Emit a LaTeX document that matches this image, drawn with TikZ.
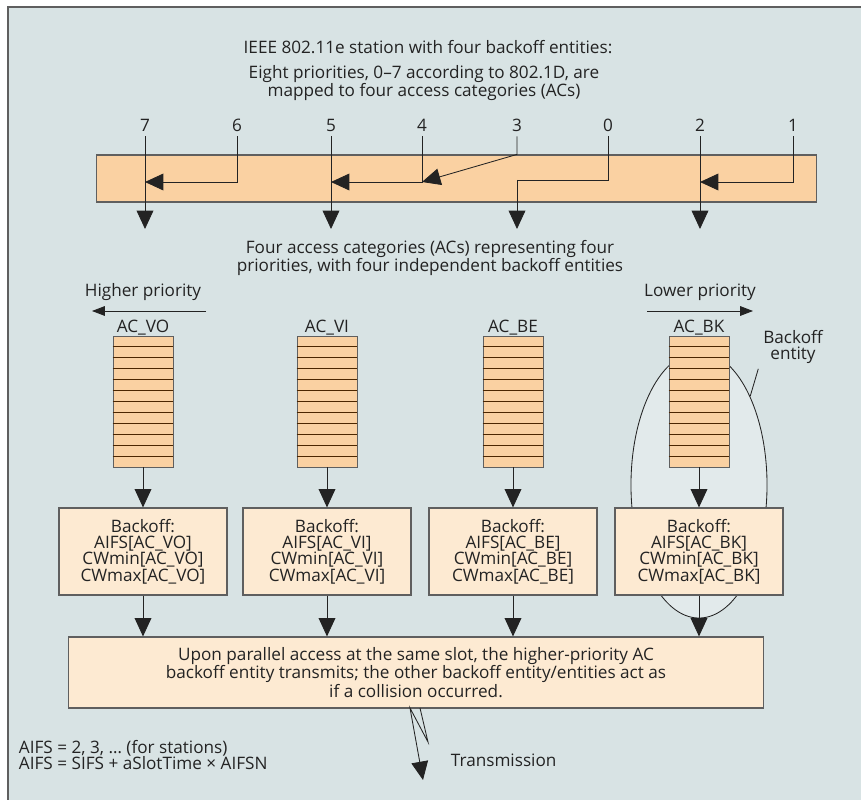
\documentclass[tikz,border=0pt]{standalone}
\usepackage{fontspec}
\setmainfont{Open Sans}
\usepackage{tikz}
\usetikzlibrary{shapes, arrows.meta, positioning, calc}
\definecolor{framebg}{RGB}{216,227,228}
\definecolor{entitybg}{RGB}{226,234,235}
\definecolor{barpeach}{RGB}{250,209,162}
\definecolor{boxpale}{RGB}{253,234,210}
\definecolor{edgegray}{RGB}{95,95,95}
\definecolor{inkgray}{RGB}{35,35,35}

\begin{document}
\begin{tikzpicture}[
  x=0.025cm, y=-0.025cm,
  font=\fontsize{12.2}{11.7}\selectfont, text=inkgray,
  barbox/.style={draw=edgegray, fill=barpeach, line width=0.8pt, minimum width=17.975cm, minimum height=1.175cm, inner sep=0pt},
  queuebox/.style={draw=edgegray, fill=barpeach, line width=0.6pt, minimum width=1.5cm, minimum height=3.275cm, inner sep=0pt},
  backoffbox/.style={draw=edgegray, fill=boxpale, line width=0.8pt, minimum width=4.2cm, minimum height=2.175cm, align=center, inner sep=2pt},
  arbbox/.style={draw=edgegray, fill=boxpale, line width=0.8pt, minimum width=17.35cm, minimum height=1.775cm, align=center},
  arr/.style={draw=inkgray, line width=0.6pt, -{Triangle[length=4.6mm, width=4.2mm]}},
  thinarr/.style={draw=inkgray, line width=0.6pt, -{Triangle[length=3.2mm, width=2.4mm]}},
  slotline/.style={draw=black!70!orange, line width=0.7pt}
]
  % frame
  \useasboundingbox (0,0) rectangle (861,800);
  \fill[white] (0,0) rectangle (861,800);
  \fill[framebg] (8,7) rectangle (861,800);
  \draw[edgegray, line width=1.4pt] (8,800) -- (8,7) -- (861,7);

  \node (title) at (428,47) {IEEE 802.11e station with four backoff entities:};
  \node[align=center] (prio) at (424,83) {Eight priorities, 0–7 according to 802.1D, are\\mapped to four access categories (ACs)};

  % priorities onto access categories
  \foreach \p/\x in {7/145, 6/237, 5/331, 4/422, 3/517, 0/608, 2/700, 1/793}
    \node (n\p) at (\x,125) {\p};
  \node[barbox] (mapbar) at (456.5,178.5) {};
  \coordinate (j7) at (145,182);
  \coordinate (j5) at (331,182);
  \coordinate (j4) at (422,182);
  \coordinate (j2) at (700,182);
  \coordinate (j0) at (517,180);
  \foreach \p/\x in {7/145, 5/331, 3/517, 2/700}
    \coordinate (d\p) at (\x,229);
  \draw[arr] (n6.south) |- (j7);
  \draw[arr] (n4.south) |- (j5);
  \draw[arr] (n3.south) -- (n3 |- mapbar.north) -- (j4);
  \draw[arr] (n1.south) |- (j2);
  \draw[inkgray, line width=0.6pt] (n0.south) |- (j0);
  \draw[arr] (j0) -- (d3);
  \foreach \p in {7,5,2}
    \draw[arr] (n\p.south) -- (d\p);

  \node[align=center] (cats) at (430,258) {Four access categories (ACs) representing four\\priorities, with four independent backoff entities};

  \node (hiprio) at (143,292) {Higher priority};
  \coordinate (hiS) at (206,311);
  \coordinate (hiE) at (92,311);
  \draw[thinarr] (hiS) -- (hiE);
  \node (loprio) at (700,292) {Lower priority};
  \coordinate (loS) at (647,311);
  \coordinate (loE) at (753,311);
  \draw[thinarr] (loS) -- (loE);

  % backoff entity outline
  \node[ellipse, draw=inkgray, fill=entitybg, line width=0.6pt, minimum width=3.4cm, minimum height=6.65cm, inner sep=0pt] (entity) at (699,485) {};

  % queues and backoff parameters
  \foreach \q/\x in {VO/143, VI/327, BE/513, BK/699} {
    \node[queuebox] (q\q) at (\x,401.5) {};
    \node[above=-3pt of q\q] (l\q) {AC\_\q};
    \foreach \k in {1,...,11}
      \draw[slotline] ($(q\q.north west)!\k/12!(q\q.south west)$) -- ($(q\q.north east)!\k/12!(q\q.south east)$);
    \node[backoffbox] (b\q) at (\x,551.5) {Backoff:\\AIFS[AC\_\q]\\CWmin[AC\_\q]\\CWmax[AC\_\q]};
    \draw[arr] (q\q.south) -- (b\q.north);
  }

  \node[align=center] (elabel) at (793,347) {Backoff\\entity};
  \draw[inkgray, line width=0.6pt] (elabel.south west) -- (entity.60);

  \node[arbbox] (arbiter) at (416,672.5) {Upon parallel access at the same slot, the higher-priority AC\\backoff entity transmits; the other backoff entity/entities act as\\if a collision occurred.};
  \foreach \q in {VO,VI,BE,BK}
    \draw[arr] (b\q.south) -- (b\q.south |- arbiter.north);

  % transmission
  \coordinate (zA) at (420,708);
  \coordinate (zB) at (428,742);
  \coordinate (zC) at (410,708);
  \coordinate (zT) at (423,780);
  \draw[arr] (zA) -- (zB) -- (zC) -- (zT);
  \node[anchor=west] (trans) at (446,760) {Transmission};

  \node[anchor=west, align=left] (aifs) at (14,755) {AIFS = 2, 3, \ldots{} (for stations)\\AIFS = SIFS + aSlotTime × AIFSN};
\end{tikzpicture}
\end{document}
